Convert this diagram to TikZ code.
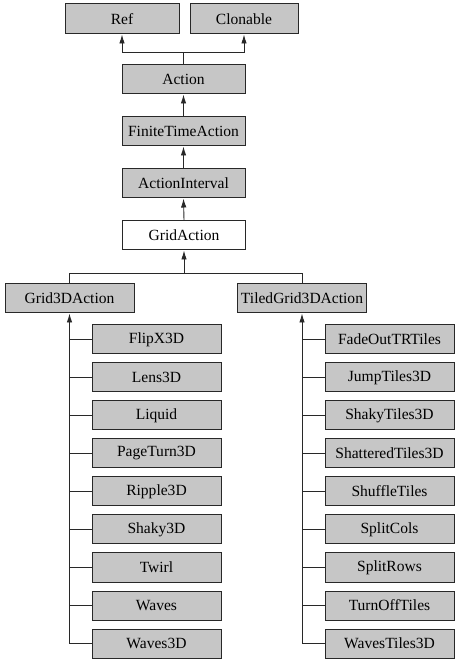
\documentclass[tikz,border=0pt]{standalone}
\usepackage{fontspec}
\setmainfont{Liberation Serif}
\usepackage{xcolor}
\usepackage{tikz}
\usetikzlibrary{
  arrows.meta,
  positioning
}
\definecolor{boxgray}{RGB}{198,198,198}
\definecolor{linegray}{RGB}{40,40,40}

\begin{document}
\begin{tikzpicture}[x=1bp, y=1bp,
    every node/.style={rectangle, minimum height=29bp, inner sep=0pt, text centered, font=\fontsize{15.6}{18}\selectfont},
    cls/.style={draw=linegray, line width=1pt, fill=boxgray, minimum width=123bp},
    wide/.style={cls, minimum width=129bp},
    plain/.style={cls, fill=white},
    conn/.style={draw=linegray, line width=0.9pt},
    arr/.style={conn, -{Latex[length=9bp, width=5.5bp]}}]
\useasboundingbox (0,0) rectangle (464,670);
% upper chain
\node [cls, minimum width=114bp, minimum height=30bp] (ref) at (122,651) {Ref};
\node [cls, minimum width=108bp, minimum height=30bp] (clonable) at (244,651) {Clonable};
\node [cls] (action) at (183.5,590.5) {Action};
\node [cls] (finite) at (183.5,538.5) {FiniteTimeAction};
\node [cls] (interval) at (183.5,486.5) {ActionInterval};
\node [plain] (grid) at (184,434.5) {GridAction};
\node [wide] (grid3d) at (69.5,371.5) {Grid3DAction};
\node [wide] (tiled) at (302,371.5) {TiledGrid3DAction};
% children
\foreach \name [count=\i] in {FlipX3D, Lens3D, Liquid, PageTurn3D, Ripple3D, Shaky3D, Twirl, Waves, Waves3D}
  \node [wide] (g\i) at (156.5,{330.5-38*(\i-1)}) {\name};
\foreach \name [count=\i] in {FadeOutTRTiles, JumpTiles3D, ShakyTiles3D, ShatteredTiles3D, ShuffleTiles, SplitCols, SplitRows, TurnOffTiles, WavesTiles3D}
  \node [wide] (t\i) at (389.5,{330.5-38*(\i-1)}) {\name};
% connectors
\coordinate (top) at ([yshift=12bp]action.north);
\draw [arr] (action.north) -- (top) -| (ref.south);
\draw [arr] (top) -| (clonable.south);
\draw [arr] (finite.north) -- (action.south);
\draw [arr] (interval.north) -- (finite.south);
\draw [arr] (grid.north) -- (interval.south);
\coordinate (split) at ([yshift=-23bp]grid.south);
\draw [arr] (grid3d.north) |- (split) -- (grid.south);
\draw [conn] (tiled.north) |- (split);
\draw [arr] (g9.west) -| (grid3d.south);
\draw [arr] (t9.west) -| (tiled.south);
\foreach \i in {1,...,8} {
  \draw [conn] (g\i.west) -- (g\i.west -| grid3d.south);
  \draw [conn] (t\i.west) -- (t\i.west -| tiled.south);
}
\end{tikzpicture}
\end{document}
